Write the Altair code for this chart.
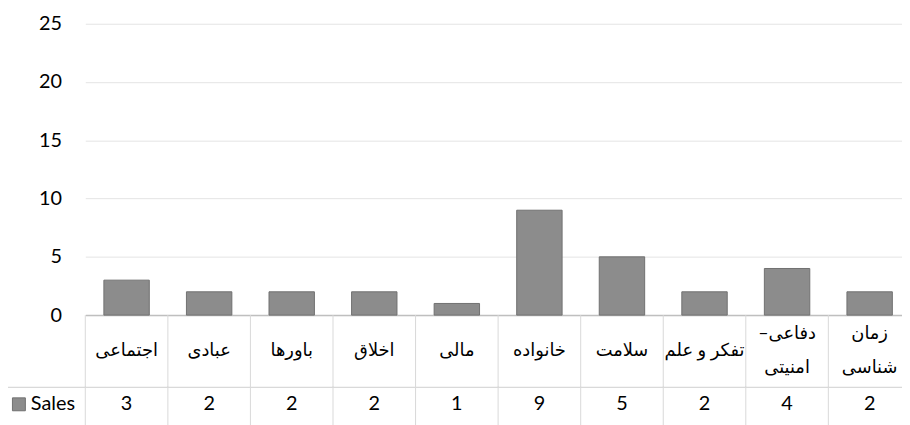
import altair as alt
import pandas as pd

RLM = "\u200f"
categories = [
    "اجتماعی",
    "عبادی",
    "باورها",
    "اخلاق",
    "مالی",
    "خانواده",
    "سلامت",
    "تفکر و علم",
    "دفاعی–" + RLM + "\n" + "امنیتی",
    "زمان\nشناسی",
]
sales = [3, 2, 2, 2, 1, 9, 5, 2, 4, 2]
y_ticks = [0, 5, 10, 15, 20, 25]
series_name = "Sales"

df = pd.DataFrame({"cat": categories, "value": sales})
df["single"] = [c if "\n" not in c else "" for c in categories]
df["line1"] = [c.split("\n")[0] if "\n" in c else "" for c in categories]
df["line2"] = [c.split("\n")[1] if "\n" in c else "" for c in categories]

FONT = "Lato, 'DejaVu Sans', sans-serif"
W = 824
H = 294
BAND_RANGE = 833
ROW1 = 36
LINE_GAP = 17
ROWSEP = 73
ROW2 = 90
BOTTOM = 120

xs = alt.Scale(range=[0, BAND_RANGE], paddingInner=0, paddingOuter=0)
xenc = alt.X("cat:N", sort=categories, scale=xs,
             axis=alt.Axis(labels=False, ticks=False, title=None, domain=True,
                           domainColor="#bfbfbf", domainWidth=1.5))
xmid = alt.X("cat:N", sort=categories, scale=xs, bandPosition=0.5)

bars = alt.Chart(df).mark_bar(fill="#8c8c8c", stroke="#707070", strokeWidth=1,
                              width=alt.RelativeBandSize(0.55)).encode(
    x=xenc,
    y=alt.Y("value:Q", scale=alt.Scale(domain=[0, 25]),
            axis=alt.Axis(values=y_ticks, title=None, ticks=False, domain=False,
                          labelPadding=24, labelFontSize=20, labelColor="#000000",
                          gridColor="#e4e4e4", gridWidth=1)),
)

base = alt.Chart(df)

vlines = base.mark_rule(color="#d9d9d9", strokeWidth=1).encode(
    x=alt.X("cat:N", sort=categories, scale=xs, bandPosition=0),
    y=alt.value(H),
    y2=alt.value(H + BOTTOM),
)

hline = base.mark_rule(color="#d9d9d9", strokeWidth=1).encode(
    x=alt.value(-81), x2=alt.value(BAND_RANGE),
    y=alt.value(H + ROWSEP),
)

left_border = base.mark_rule(color="#d9d9d9", strokeWidth=1).encode(
    x=alt.value(-81),
    y=alt.value(H + ROWSEP), y2=alt.value(H + BOTTOM),
)

text_props = dict(fontSize=18, baseline="middle", color="#000000")

cat_single = base.mark_text(**text_props).encode(
    x=xmid, y=alt.value(H + ROW1), text=alt.Text("single:N"),
)
cat_l1 = base.mark_text(**text_props).encode(
    x=xmid, y=alt.value(H + ROW1 - LINE_GAP), text=alt.Text("line1:N"),
)
cat_l2 = base.mark_text(**text_props).encode(
    x=xmid, y=alt.value(H + ROW1 + LINE_GAP), text=alt.Text("line2:N"),
)

val_text = base.mark_text(fontSize=20, baseline="middle", color="#000000").encode(
    x=xmid, y=alt.value(H + ROW2), text=alt.Text("value:Q"),
)

key_df = pd.DataFrame({"name": [series_name]})
key = alt.Chart(key_df).mark_square(size=170, fill="#8c8c8c", stroke="#707070",
                                    strokeWidth=1, opacity=1).encode(
    x=alt.value(-67), y=alt.value(H + ROW2),
)
key_text = alt.Chart(key_df).mark_text(fontSize=20, align="left", baseline="middle",
                                       color="#000000").encode(
    x=alt.value(-55), y=alt.value(H + ROW2), text="name:N",
)

chart = alt.layer(bars, vlines, hline, left_border, cat_single, cat_l1, cat_l2,
                  val_text, key, key_text).properties(
    width=W, height=H,
    autosize=alt.AutoSizeParams(type="none"),
    padding={"left": 78, "top": 14, "right": 0, "bottom": 109},
).configure(font=FONT).configure_view(stroke=None)

chart.save("out.html", embed_options={"renderer": "svg", "actions": False})
